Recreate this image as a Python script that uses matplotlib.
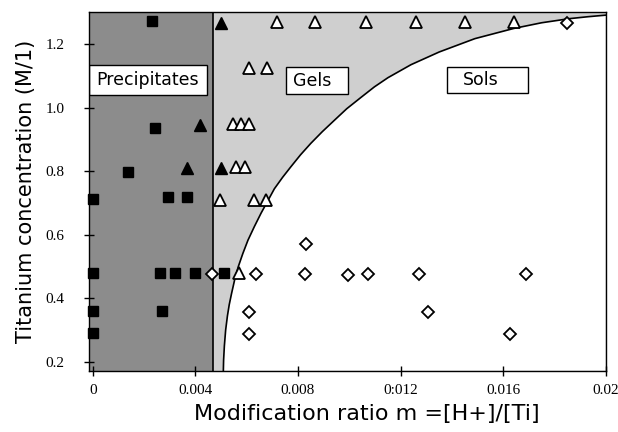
import matplotlib.pyplot as plt
from matplotlib.patches import Rectangle

# boundary between precipitates and gels
precip_edge = 0.0047

# gels / sols boundary curve
curve_m = [0.00509, 0.0051, 0.00513, 0.00518, 0.00525, 0.00532, 0.00541, 0.00553, 0.00567,
           0.00585, 0.00605, 0.0063, 0.00656, 0.00708, 0.0074, 0.00772, 0.0081,
           0.0085, 0.00895, 0.00941, 0.0099, 0.01046, 0.01098, 0.01151, 0.01241,
           0.01351, 0.0149, 0.01641, 0.0175, 0.01859, 0.0193, 0.0200]
curve_c = [0.172, 0.205, 0.25, 0.30, 0.345, 0.38, 0.415, 0.458, 0.499,
           0.541, 0.583, 0.626, 0.668, 0.745, 0.781, 0.814, 0.852,
           0.888, 0.925, 0.960, 0.997, 1.033, 1.066, 1.095, 1.136,
           1.176, 1.218, 1.250, 1.268, 1.281, 1.287, 1.292]

# precipitates (filled squares)
sq_m = [0.0023, 0.00244, 0.00138, 0.0, 0.00293, 0.00369,
        0.0, 0.00261, 0.00319, 0.0040, 0.00511, 0.0, 0.00268, 0.0]
sq_c = [1.273, 0.937, 0.797, 0.712, 0.719, 0.719,
        0.48, 0.48, 0.48, 0.48, 0.48, 0.36, 0.36, 0.291]

# filled triangles
ftri_m = [0.00499, 0.00419, 0.00368, 0.00499]
ftri_c = [1.268, 0.946, 0.809, 0.812]

# gels (open triangles)
otri_m = [0.00717, 0.00867, 0.01067, 0.01262, 0.0145, 0.01642,
          0.00608, 0.00681,
          0.00547, 0.00579, 0.00608,
          0.00557, 0.00595,
          0.00497, 0.00628, 0.00674,
          0.00571]
otri_c = [1.27, 1.27, 1.27, 1.27, 1.27, 1.27,
          1.125, 1.125,
          0.948, 0.948, 0.948,
          0.813, 0.813,
          0.71, 0.71, 0.71,
          0.48]

# sols (open diamonds)
dia_m = [0.00464, 0.00635, 0.00826, 0.00997, 0.01072, 0.01273, 0.0169,
         0.0083, 0.00608, 0.00608, 0.01307, 0.01628, 0.01849]
dia_c = [0.478, 0.478, 0.478, 0.473, 0.478, 0.478, 0.478,
         0.570, 0.358, 0.287, 0.356, 0.287, 1.268]

xticks = [0, 0.004, 0.008, 0.012, 0.016, 0.02]
xtick_labels = ['0', '0.004', '0.008', '0:012', '0.016', '0.02']
yticks = [0.2, 0.4, 0.6, 0.8, 1.0, 1.2]
ytick_labels = ['0.2', '0.4', '0.6', '0.8', '1.0', '1.2']

xmin, xmax = -0.00015, 0.02
ymin, ymax = 0.172, 1.303

fig = plt.figure(figsize=(6.18, 4.32), dpi=100)
ax = fig.add_axes([0.144, 0.142, 0.836, 0.831])
ax.set_xlim(xmin, xmax)
ax.set_ylim(ymin, ymax)

# regions
ax.axvspan(xmin, precip_edge, color='#8c8c8c', lw=0, zorder=0)
ax.axvspan(precip_edge, xmax, color='#cfcfcf', lw=0, zorder=0)
ax.fill(curve_m + [xmax], curve_c + [ymin], color='white', lw=0, zorder=1)
ax.axvline(precip_edge, color='black', lw=1.2, zorder=2)
ax.plot(curve_m, curve_c, color='black', lw=1.2, zorder=2)

# data points
ax.plot(sq_m, sq_c, 's', color='black', ms=7, ls='none', zorder=4, clip_on=False)
ax.plot(ftri_m, ftri_c, '^', color='black', ms=8, ls='none', zorder=4)
ax.plot(otri_m, otri_c, '^', mfc='white', mec='black', mew=1.3, ms=8, ls='none', zorder=4)
ax.plot(dia_m, dia_c, 'D', mfc='white', mec='black', mew=1.3, ms=6.5, ls='none', zorder=5)

# region labels
boxes = [('Precipitates', 0.0, 0.768, 0.228, 0.084, 0.5),
         ('Gels', 0.381, 0.771, 0.121, 0.074, 0.42),
         ('Sols', 0.692, 0.773, 0.158, 0.074, 0.42)]
for name, bx, by, bw, bh, cx in boxes:
    ax.add_patch(Rectangle((bx, by), bw, bh, transform=ax.transAxes,
                           facecolor='white', edgecolor='black', lw=1, zorder=6))
    ax.text(bx + bw * cx, by + bh / 2, name, transform=ax.transAxes,
            ha='center', va='center', fontsize=12.5, family='DejaVu Sans', zorder=7)

# axes styling
ax.set_xticks(xticks)
ax.set_xticklabels(xtick_labels, family='Liberation Serif', fontsize=11)
ax.set_yticks(yticks)
ax.set_yticklabels(ytick_labels, family='Liberation Serif', fontsize=11)
ax.tick_params(axis='x', direction='inout', length=7, width=1, pad=6)
ax.tick_params(axis='y', direction='inout', length=7, width=1, pad=14)
for sp in ax.spines.values():
    sp.set_linewidth(1)
    sp.set_zorder(8)

fig.text(0.042, 0.558, 'Titanium concentration (M/1)', rotation=90,
         ha='center', va='center', fontsize=15, family='DejaVu Sans')
fig.text(0.594, 0.042, 'Modification ratio m =[H+]/[Ti]',
         ha='center', va='center', fontsize=16, family='DejaVu Sans')

fig.savefig('out.png', dpi=100)
